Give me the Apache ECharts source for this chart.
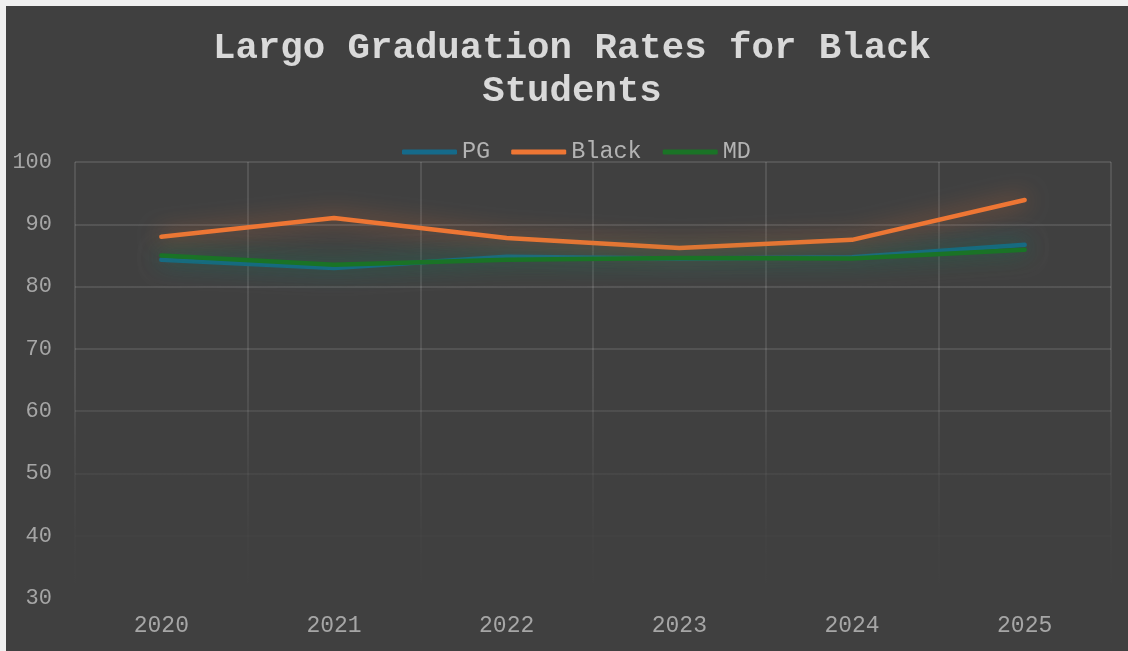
<!DOCTYPE html>
<html>
<head>
<meta charset="utf-8">
<script src="https://cdn.jsdelivr.net/npm/echarts@6/dist/echarts.min.js"></script>
<style>
  html, body { margin: 0; padding: 0; background: #f0f0f0; }
  #chart { position: absolute; left: 6px; top: 6px; width: 1122px; height: 645px; background: #404040; }
</style>
</head>
<body>
<div id="chart"></div>
<script>
// Graduation rates (%) by year
const years = ['2020', '2021', '2022', '2023', '2024', '2025'];
const pgRates = [84.3, 83.0, 84.8, 84.5, 84.7, 86.7];
const blackRates = [88.0, 91.0, 87.8, 86.2, 87.5, 93.9];
const mdRates = [85.0, 83.5, 84.3, 84.6, 84.5, 85.9];

const MONO = '"Liberation Mono", "Courier New", monospace';

const chart = echarts.init(document.getElementById('chart'));

const gridTop = 156, gridBottom = 53, height = 645;

// Gridlines fade out towards the bottom of the plot
const gridFade = new echarts.graphic.LinearGradient(0, gridTop, 0, height - gridBottom, [
  { offset: 0, color: 'rgba(255,255,255,0.15)' },
  { offset: 0.5, color: 'rgba(255,255,255,0.13)' },
  { offset: 0.7, color: 'rgba(255,255,255,0.05)' },
  { offset: 0.85, color: 'rgba(255,255,255,0.015)' },
  { offset: 1, color: 'rgba(255,255,255,0)' }
], true);

function lineSeries(name, data, color, glow) {
  return {
    name: name,
    type: 'line',
    data: data,
    symbol: 'none',
    lineStyle: {
      width: 4.5,
      color: color,
      cap: 'round',
      join: 'round',
      shadowBlur: 22,
      shadowColor: glow
    },
    itemStyle: { color: color }
  };
}

chart.setOption({
  backgroundColor: '#404040',
  animation: false,
  title: {
    text: 'Largo Graduation Rates for Black\nStudents',
    left: 566,
    top: 21,
    textAlign: 'center',
    padding: 0,
    textStyle: {
      fontFamily: MONO,
      fontWeight: 'bold',
      fontSize: 37.4,
      lineHeight: 43,
      color: '#d9d9d9'
    }
  },
  legend: {
    top: 134,
    left: 396,
    padding: 0,
    itemWidth: 55,
    itemHeight: 5,
    itemGap: 21,
    icon: 'roundRect',
    textStyle: { fontFamily: MONO, fontSize: 23.5, color: '#b3b3b3' },
    data: ['PG', 'Black', 'MD']
  },
  grid: { left: 69, right: 17, top: gridTop, bottom: gridBottom, containLabel: false },
  xAxis: {
    type: 'category',
    data: years,
    boundaryGap: true,
    axisLine: { show: false },
    axisTick: { show: false },
    axisLabel: { fontFamily: MONO, fontSize: 23, color: '#a6a6a6', margin: 16 },
    splitLine: { show: true, lineStyle: { color: gridFade, width: 1.5 } }
  },
  yAxis: {
    type: 'value',
    min: 30,
    max: 100,
    interval: 10,
    axisLine: { show: false },
    axisTick: { show: false },
    axisLabel: { fontFamily: MONO, fontSize: 22, color: '#a6a6a6', margin: 23 },
    splitLine: { show: true, lineStyle: { color: gridFade, width: 1.5 } }
  },
  series: [
    lineSeries('PG', pgRates, '#156a8a', 'rgba(21,106,138,0.8)'),
    lineSeries('Black', blackRates, '#ee7634', 'rgba(233,113,50,0.7)'),
    lineSeries('MD', mdRates, '#1a7326', 'rgba(25,107,36,0.8)')
  ]
});
</script>
</body>
</html>
